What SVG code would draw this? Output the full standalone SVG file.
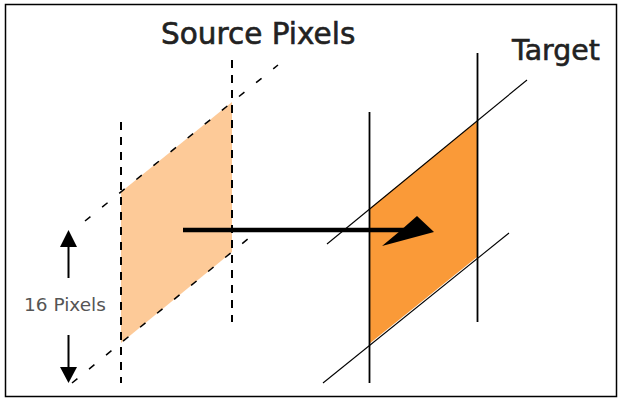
<svg xmlns="http://www.w3.org/2000/svg" width="622" height="401" viewBox="0 0 622 401">
<defs>
<style>
.t{font-family:"DejaVu Sans","Liberation Sans",sans-serif;fill:#222;stroke:#222;stroke-width:0.6}
.vd{stroke:#000;stroke-width:2;stroke-dasharray:8 7;fill:none}
.dd{stroke:#000;stroke-width:1.5;stroke-dasharray:7 15;fill:none}
.vs{stroke:#000;stroke-width:1.8;fill:none}
.ds{stroke:#000;stroke-width:1.1;fill:none}
</style>
</defs>
<rect x="0" y="0" width="622" height="401" fill="#fff"/>
<rect x="5.5" y="4.5" width="611" height="392" fill="none" stroke="#000" stroke-width="1.5"/>

<g id="source">
<polygon points="121,192 232,102 232,252 121,343" fill="#FDCA98"/>
<line class="vd" x1="121" y1="122" x2="121" y2="383"/>
<line class="vd" x1="232" y1="60" x2="232" y2="322"/>
<line class="dd" x1="85" y1="221" x2="278" y2="65"/>
<line class="dd" x1="72" y1="383" x2="260" y2="229"/>
<text class="t" x="161" y="44" font-size="29.5">Source Pixels</text>
</g>

<g id="target">
<polygon points="369,209 477,121 477,257 369,344" fill="#FA9A38"/>
<line class="vs" x1="369.5" y1="112" x2="369.5" y2="383"/>
<line class="vs" x1="477.5" y1="53" x2="477.5" y2="322"/>
<line class="ds" x1="327" y1="244" x2="527" y2="80"/>
<line class="ds" x1="323" y1="383" x2="509" y2="233"/>
<text class="t" x="512" y="60" font-size="28.4">Target</text>
</g>

<g id="scale">
<line x1="68.5" y1="278" x2="68.5" y2="246" stroke="#000" stroke-width="2"/>
<polygon points="68.5,230 60,247 77,247" fill="#000"/>
<line x1="68.5" y1="335" x2="68.5" y2="368" stroke="#000" stroke-width="2"/>
<polygon points="68.5,383 60,367 77,367" fill="#000"/>
<text x="24" y="311" font-size="18.5" font-family="DejaVu Sans, Liberation Sans, sans-serif" fill="#555">16 Pixels</text>
</g>

<g id="connectors">
<line x1="183" y1="230" x2="404" y2="230" stroke="#000" stroke-width="4.5"/>
<polygon points="417,216 434,232 382,246 400,231" fill="#000"/>
</g>
</svg>
